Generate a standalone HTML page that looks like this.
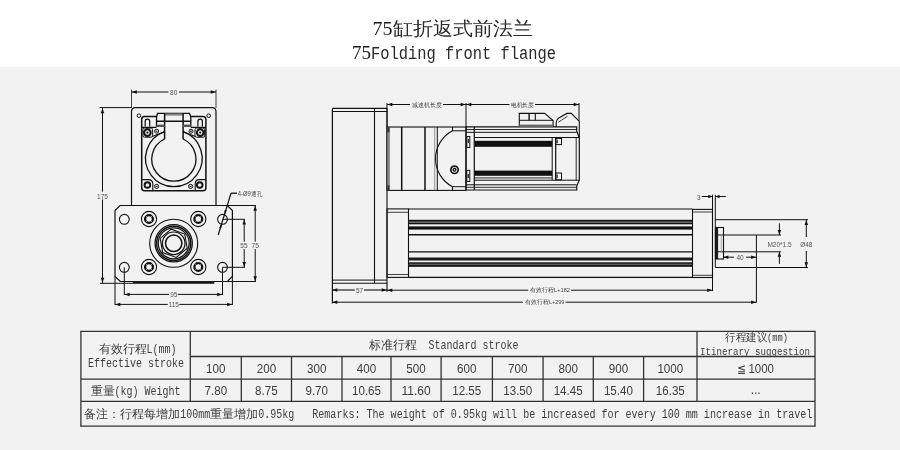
<!DOCTYPE html>
<html><head><meta charset="utf-8"><style>
*{margin:0;padding:0}
html,body{width:900px;height:450px;overflow:hidden;background:#f2f2f2}
svg{position:absolute;left:0;top:0;display:block;will-change:transform}
</style></head><body>
<svg width="900" height="450" viewBox="0 0 900 450">
<rect x="0" y="0" width="900" height="66.5" fill="#fff"/>
<text x="372.5" y="35.3" font-size="19.5" fill="#1a1a1a" text-anchor="start" font-family='"Liberation Serif", serif' textLength="20" lengthAdjust="spacingAndGlyphs" >75</text>
<text x="392.5" y="35.3" font-size="19" fill="#2b2b2b" text-anchor="start" font-family='"Liberation Serif", serif' textLength="140" lengthAdjust="spacingAndGlyphs" >缸折返式前法兰</text>
<text x="352" y="59" font-size="19" fill="#1a1a1a" text-anchor="start" font-family='"Liberation Serif", serif' textLength="19" lengthAdjust="spacingAndGlyphs" >75</text>
<text x="371" y="59" font-size="18.5" fill="#2a2a2a" text-anchor="start" font-family='"Liberation Mono", monospace' textLength="185" lengthAdjust="spacingAndGlyphs" >Folding front flange</text>
<path d="M131.5,205.5 V111.6 Q131.5,107.6 135.5,107.6 H212 Q216,107.6 216,111.6 V205.5" stroke="#111" stroke-width="1.2" fill="none"/>
<path d="M141.7,188 V119.3 Q141.7,116.5 144.5,116.5 H156.5 M190.8,116.5 H203 Q205.9,116.5 205.9,119.3 V188 Q205.9,190.7 203,190.7 H144.5 Q141.7,190.7 141.7,188" stroke="#111" stroke-width="1.5" fill="none"/>
<circle cx="138.9" cy="115.7" r="1.8" stroke="#111" stroke-width="1.0" fill="none"/>
<circle cx="208.7" cy="115.7" r="1.8" stroke="#111" stroke-width="1.0" fill="none"/>
<path d="M156.5,126.8 V117 L157.5,113.3 H189.5 L190.8,117 V126.8" stroke="#111" stroke-width="1.3" fill="none"/>
<rect x="164.6" y="113.5" width="18.5" height="2.2" fill="#8a8a8a"/>
<line x1="164.6" y1="113.3" x2="164.6" y2="139.2" stroke="#111" stroke-width="1.5"/>
<line x1="183.1" y1="113.3" x2="183.1" y2="139.2" stroke="#111" stroke-width="1.5"/>
<line x1="156.5" y1="121.2" x2="190.8" y2="121.2" stroke="#111" stroke-width="1.4"/>
<rect x="156.5" y="124.6" width="8.1" height="2.4" fill="#555"/>
<rect x="183.1" y="124.6" width="7.7" height="2.4" fill="#555"/>
<path d="M145.2,126.5 V121.4 A2.25,2.25 0 0 1 149.7,121.4 V126.5" stroke="#111" stroke-width="1.2" fill="none"/>
<path d="M197.9,126.5 V121.4 A2.25,2.25 0 0 1 202.4,121.4 V126.5" stroke="#111" stroke-width="1.2" fill="none"/>
<path d="M141.7,127.3 H156.5 M190.8,127.3 H205.9" stroke="#111" stroke-width="1.3" fill="none"/>
<path d="M143,129.5 Q143,128 144.5,128 H151 Q152.6,128 152.6,129.5 V135.7 Q152.6,137.2 151,137.2 H144.5 Q143,137.2 143,135.7 Z" stroke="#111" stroke-width="1.0" fill="none"/>
<path d="M204.6,129.5 Q204.6,128 203.1,128 H196.6 Q195,128 195,129.5 V135.7 Q195,137.2 196.6,137.2 H203.1 Q204.6,137.2 204.6,135.7 Z" stroke="#111" stroke-width="1.0" fill="none"/>
<path d="M152.2,136.4 L164.6,131.7 M195.4,136.4 L183.1,131.7" stroke="#111" stroke-width="1.1" fill="none"/>
<circle cx="147.4" cy="132.6" r="3.3" stroke="#111" stroke-width="2.0" fill="none"/>
<circle cx="147.4" cy="132.6" r="1.1" stroke="#111" stroke-width="0" fill="#111"/>
<circle cx="200.2" cy="132.6" r="3.3" stroke="#111" stroke-width="2.0" fill="none"/>
<circle cx="200.2" cy="132.6" r="1.1" stroke="#111" stroke-width="0" fill="#111"/>
<circle cx="156.6" cy="131.2" r="2.0" stroke="#111" stroke-width="1.0" fill="none"/>
<line x1="155.6" y1="131.2" x2="157.6" y2="131.2" stroke="#111" stroke-width="1.0"/>
<circle cx="191" cy="131.2" r="2.0" stroke="#111" stroke-width="1.0" fill="none"/>
<line x1="190" y1="131.2" x2="192" y2="131.2" stroke="#111" stroke-width="1.0"/>
<path d="M164.6,131.6 A28.3,28.3 0 1 0 183.1,131.6" stroke="#111" stroke-width="1.3" fill="none"/>
<path d="M164.6,139 A22.1,22.1 0 1 0 183.1,139" stroke="#111" stroke-width="1.3" fill="none"/>
<path d="M141.7,179.6 H148.5 Q152.8,179.6 152.8,184 V190.7" stroke="#111" stroke-width="1.1" fill="none"/>
<path d="M205.9,179.6 H199.5 Q195.2,179.6 195.2,184 V190.7" stroke="#111" stroke-width="1.1" fill="none"/>
<circle cx="147.4" cy="185" r="2.8" stroke="#111" stroke-width="1.9" fill="none"/>
<circle cx="199.7" cy="185" r="2.8" stroke="#111" stroke-width="1.9" fill="none"/>
<circle cx="156.6" cy="186.4" r="2.1" stroke="#111" stroke-width="1.0" fill="none"/>
<line x1="155.6" y1="186.4" x2="157.6" y2="186.4" stroke="#111" stroke-width="1.0"/>
<circle cx="190.6" cy="186.4" r="2.1" stroke="#111" stroke-width="1.0" fill="none"/>
<line x1="189.6" y1="186.4" x2="191.6" y2="186.4" stroke="#111" stroke-width="1.0"/>
<path d="M120,205.5 H227.4 L232.4,210.5 V276.5 L227.4,281.5 H120.3 L115,276.5 V210.6 Z" stroke="#111" stroke-width="1.2" fill="none"/>
<rect x="132.8" y="281" width="81.5" height="2.8" fill="#1a1a1a"/>
<circle cx="124.3" cy="219.3" r="4.9" stroke="#111" stroke-width="1.1" fill="none"/>
<circle cx="222.5" cy="219.3" r="4.9" stroke="#111" stroke-width="1.1" fill="none"/>
<circle cx="124.3" cy="267.3" r="4.9" stroke="#111" stroke-width="1.1" fill="none"/>
<circle cx="222.5" cy="267.3" r="4.9" stroke="#111" stroke-width="1.1" fill="none"/>
<circle cx="149" cy="219" r="7.6" stroke="#111" stroke-width="1.1" fill="none"/>
<circle cx="149" cy="219" r="3.9" stroke="#111" stroke-width="2.3" fill="none"/>
<line x1="145.32" y1="215.32" x2="147.02" y2="217.02" stroke="#f2f2f2" stroke-width="0.5"/>
<line x1="152.68" y1="222.68" x2="150.98" y2="220.98" stroke="#f2f2f2" stroke-width="0.5"/>
<line x1="152.68" y1="215.32" x2="150.98" y2="217.02" stroke="#f2f2f2" stroke-width="0.5"/>
<line x1="145.32" y1="222.68" x2="147.02" y2="220.98" stroke="#f2f2f2" stroke-width="0.5"/>
<circle cx="198.3" cy="219" r="7.6" stroke="#111" stroke-width="1.1" fill="none"/>
<circle cx="198.3" cy="219" r="3.9" stroke="#111" stroke-width="2.3" fill="none"/>
<line x1="194.62" y1="215.32" x2="196.32" y2="217.02" stroke="#f2f2f2" stroke-width="0.5"/>
<line x1="201.98" y1="222.68" x2="200.28" y2="220.98" stroke="#f2f2f2" stroke-width="0.5"/>
<line x1="201.98" y1="215.32" x2="200.28" y2="217.02" stroke="#f2f2f2" stroke-width="0.5"/>
<line x1="194.62" y1="222.68" x2="196.32" y2="220.98" stroke="#f2f2f2" stroke-width="0.5"/>
<circle cx="149" cy="267" r="7.6" stroke="#111" stroke-width="1.1" fill="none"/>
<circle cx="149" cy="267" r="3.9" stroke="#111" stroke-width="2.3" fill="none"/>
<line x1="145.32" y1="263.32" x2="147.02" y2="265.02" stroke="#f2f2f2" stroke-width="0.5"/>
<line x1="152.68" y1="270.68" x2="150.98" y2="268.98" stroke="#f2f2f2" stroke-width="0.5"/>
<line x1="152.68" y1="263.32" x2="150.98" y2="265.02" stroke="#f2f2f2" stroke-width="0.5"/>
<line x1="145.32" y1="270.68" x2="147.02" y2="268.98" stroke="#f2f2f2" stroke-width="0.5"/>
<circle cx="198.3" cy="267" r="7.6" stroke="#111" stroke-width="1.1" fill="none"/>
<circle cx="198.3" cy="267" r="3.9" stroke="#111" stroke-width="2.3" fill="none"/>
<line x1="194.62" y1="263.32" x2="196.32" y2="265.02" stroke="#f2f2f2" stroke-width="0.5"/>
<line x1="201.98" y1="270.68" x2="200.28" y2="268.98" stroke="#f2f2f2" stroke-width="0.5"/>
<line x1="201.98" y1="263.32" x2="200.28" y2="265.02" stroke="#f2f2f2" stroke-width="0.5"/>
<line x1="194.62" y1="270.68" x2="196.32" y2="268.98" stroke="#f2f2f2" stroke-width="0.5"/>
<circle cx="173.7" cy="243.3" r="24" stroke="#111" stroke-width="1.1" fill="none"/>
<circle cx="173.7" cy="243.3" r="18.6" stroke="#111" stroke-width="1.3" fill="none"/>
<circle cx="173.7" cy="243.3" r="17.1" stroke="#111" stroke-width="1.4" fill="none"/>
<circle cx="173.7" cy="243.3" r="15.5" stroke="#111" stroke-width="1.3" fill="none"/>
<polygon points="187.23,248.23 176.20,257.48 162.67,252.56 160.17,238.37 171.20,229.12 184.73,234.04" fill="none" stroke="#111" stroke-width="1.1"/>
<circle cx="173.7" cy="243.3" r="11.3" stroke="#111" stroke-width="1.2" fill="none"/>
<circle cx="173.7" cy="243.3" r="8.2" stroke="#111" stroke-width="1.5" fill="none"/>
<line x1="131.5" y1="89.5" x2="131.5" y2="108" stroke="#111" stroke-width="0.8"/>
<line x1="216" y1="89.5" x2="216" y2="108" stroke="#111" stroke-width="0.8"/>
<line x1="131.5" y1="92" x2="168.5" y2="92" stroke="#111" stroke-width="1.0"/>
<line x1="179" y1="92" x2="216" y2="92" stroke="#111" stroke-width="1.0"/>
<polygon points="131.80,92.00 136.80,90.25 136.80,93.75" fill="#111"/>
<polygon points="215.70,92.00 210.70,93.75 210.70,90.25" fill="#111"/>
<text x="173.7" y="95.2" font-size="6.5" fill="#555" text-anchor="middle" font-family='"Liberation Sans", sans-serif' >80</text>
<line x1="99.5" y1="107.6" x2="131.5" y2="107.6" stroke="#111" stroke-width="1.0"/>
<line x1="102.5" y1="108" x2="102.5" y2="191.7" stroke="#111" stroke-width="1.0"/>
<line x1="102.5" y1="199.5" x2="102.5" y2="283.3" stroke="#111" stroke-width="1.0"/>
<polygon points="102.50,108.30 104.25,113.30 100.75,113.30" fill="#111"/>
<polygon points="102.50,282.80 100.75,277.80 104.25,277.80" fill="#111"/>
<text x="102.5" y="199.2" font-size="6.5" fill="#555" text-anchor="middle" font-family='"Liberation Sans", sans-serif' >175</text>
<line x1="100" y1="283.3" x2="132.8" y2="283.3" stroke="#111" stroke-width="1.0"/>
<line x1="124.3" y1="267.3" x2="124.3" y2="295" stroke="#111" stroke-width="1.0"/>
<line x1="222.5" y1="267.3" x2="222.5" y2="295" stroke="#111" stroke-width="1.0"/>
<line x1="124.3" y1="294.4" x2="169" y2="294.4" stroke="#111" stroke-width="1.0"/>
<line x1="177.8" y1="294.4" x2="222.5" y2="294.4" stroke="#111" stroke-width="1.0"/>
<polygon points="124.60,294.40 129.60,292.65 129.60,296.15" fill="#111"/>
<polygon points="222.20,294.40 217.20,296.15 217.20,292.65" fill="#111"/>
<text x="173.8" y="297.0" font-size="6.5" fill="#555" text-anchor="middle" font-family='"Liberation Sans", sans-serif' >95</text>
<line x1="115" y1="276.5" x2="115" y2="305" stroke="#111" stroke-width="1.0"/>
<line x1="232.4" y1="276.5" x2="232.4" y2="305" stroke="#111" stroke-width="1.0"/>
<line x1="115" y1="304.4" x2="167.8" y2="304.4" stroke="#111" stroke-width="1.0"/>
<line x1="179.3" y1="304.4" x2="232.4" y2="304.4" stroke="#111" stroke-width="1.0"/>
<polygon points="115.30,304.50 120.30,302.75 120.30,306.25" fill="#111"/>
<polygon points="232.10,304.50 227.10,306.25 227.10,302.75" fill="#111"/>
<text x="173.8" y="306.8" font-size="6.5" fill="#555" text-anchor="middle" font-family='"Liberation Sans", sans-serif' >115</text>
<line x1="222.5" y1="219.3" x2="245" y2="219.3" stroke="#111" stroke-width="1.0"/>
<line x1="222.5" y1="267.3" x2="245" y2="267.3" stroke="#111" stroke-width="1.0"/>
<line x1="244.2" y1="219.3" x2="244.2" y2="241.7" stroke="#111" stroke-width="1.0"/>
<line x1="244.2" y1="249.1" x2="244.2" y2="267.3" stroke="#111" stroke-width="1.0"/>
<polygon points="244.20,219.60 245.95,224.60 242.45,224.60" fill="#111"/>
<polygon points="244.20,267.00 242.45,262.00 245.95,262.00" fill="#111"/>
<text x="244" y="248.0" font-size="6.6" fill="#555" text-anchor="middle" font-family='"Liberation Sans", sans-serif' >55</text>
<line x1="227.4" y1="205.5" x2="256" y2="205.5" stroke="#111" stroke-width="1.0"/>
<line x1="227.4" y1="281.5" x2="256" y2="281.5" stroke="#111" stroke-width="1.0"/>
<line x1="255.2" y1="205.5" x2="255.2" y2="241.7" stroke="#111" stroke-width="1.0"/>
<line x1="255.2" y1="249.1" x2="255.2" y2="281.5" stroke="#111" stroke-width="1.0"/>
<polygon points="255.20,205.80 256.95,210.80 253.45,210.80" fill="#111"/>
<polygon points="255.20,281.20 253.45,276.20 256.95,276.20" fill="#111"/>
<text x="255.2" y="248.0" font-size="6.6" fill="#555" text-anchor="middle" font-family='"Liberation Sans", sans-serif' >75</text>
<line x1="231" y1="193.2" x2="237" y2="193.2" stroke="#111" stroke-width="1.3"/>
<line x1="231" y1="193.2" x2="218.2" y2="235" stroke="#111" stroke-width="1.2"/>
<polygon points="224.00,216.00 224.71,209.94 226.81,210.59" fill="#111"/>
<polygon points="222.00,222.50 221.29,228.56 219.19,227.91" fill="#111"/>
<text x="237.8" y="195.6" font-size="6.3" fill="#444" text-anchor="start" font-family='"Liberation Sans", sans-serif' textLength="13" lengthAdjust="spacingAndGlyphs" >4-Ø9</text>
<text x="251" y="195.6" font-size="6.3" fill="#444" text-anchor="start" font-family='"Liberation Serif", serif' textLength="11" lengthAdjust="spacingAndGlyphs" >通孔</text>
<line x1="332.4" y1="108.4" x2="387" y2="108.4" stroke="#111" stroke-width="1.1"/>
<line x1="332.4" y1="111.5" x2="387" y2="111.5" stroke="#111" stroke-width="1.1"/>
<line x1="332.4" y1="108.4" x2="332.4" y2="303.5" stroke="#111" stroke-width="1.2"/>
<line x1="387" y1="108.5" x2="387" y2="292" stroke="#111" stroke-width="1.1"/>
<line x1="374.5" y1="108.5" x2="374.5" y2="283.3" stroke="#111" stroke-width="1.1"/>
<line x1="332" y1="280.1" x2="387" y2="280.1" stroke="#111" stroke-width="1"/>
<line x1="332" y1="283.3" x2="387" y2="283.3" stroke="#111" stroke-width="1.1"/>
<rect x="387" y="127" width="79" height="63.4" stroke="#111" stroke-width="1.1" fill="none"/>
<rect x="387.5" y="127.5" width="1.8" height="62.5" fill="#9a9a9a"/>
<rect x="387.3" y="127.3" width="2.2" height="5" fill="#333"/>
<rect x="387.3" y="185.4" width="2.2" height="5" fill="#333"/>
<line x1="389.3" y1="127" x2="389.3" y2="190.4" stroke="#555" stroke-width="0.7"/>
<line x1="401.7" y1="127" x2="401.7" y2="190.4" stroke="#111" stroke-width="1.5"/>
<line x1="425" y1="127" x2="425" y2="190.4" stroke="#111" stroke-width="1.5"/>
<line x1="434.7" y1="127" x2="434.7" y2="190.4" stroke="#777" stroke-width="0.8"/>
<line x1="437.3" y1="127" x2="437.3" y2="190.4" stroke="#111" stroke-width="1.0"/>
<path d="M452.5,127 V130.8 A31.5,31.5 0 0 0 452.5,186.7 V190.4" stroke="#111" stroke-width="1.1" fill="none"/>
<line x1="452.5" y1="130.8" x2="466" y2="130.8" stroke="#111" stroke-width="1.0"/>
<line x1="452.5" y1="186.7" x2="466" y2="186.7" stroke="#111" stroke-width="1.0"/>
<circle cx="454.5" cy="169.8" r="3.7" stroke="#111" stroke-width="1.7" fill="none"/>
<circle cx="454.5" cy="169.8" r="1.4" stroke="#111" stroke-width="1.3" fill="none"/>
<line x1="387" y1="103" x2="387" y2="127" stroke="#111" stroke-width="1.0"/>
<line x1="466" y1="103" x2="466" y2="127" stroke="#111" stroke-width="1.0"/>
<line x1="579" y1="103" x2="579" y2="121" stroke="#111" stroke-width="1.0"/>
<line x1="387" y1="104.5" x2="410" y2="104.5" stroke="#111" stroke-width="1.0"/>
<line x1="443" y1="104.5" x2="466" y2="104.5" stroke="#111" stroke-width="1.0"/>
<polygon points="387.30,104.50 392.30,102.75 392.30,106.25" fill="#111"/>
<polygon points="465.70,104.50 460.70,106.25 460.70,102.75" fill="#111"/>
<text x="411.5" y="106.8" font-size="6.2" fill="#444" text-anchor="start" font-family='"Liberation Serif", serif' textLength="30" lengthAdjust="spacingAndGlyphs" >减速机长度</text>
<line x1="466" y1="104.5" x2="509.5" y2="104.5" stroke="#111" stroke-width="1.0"/>
<line x1="535" y1="104.5" x2="579" y2="104.5" stroke="#111" stroke-width="1.0"/>
<polygon points="466.30,104.50 471.30,102.75 471.30,106.25" fill="#111"/>
<polygon points="578.70,104.50 573.70,106.25 573.70,102.75" fill="#111"/>
<text x="510.8" y="106.8" font-size="6.2" fill="#444" text-anchor="start" font-family='"Liberation Serif", serif' textLength="23" lengthAdjust="spacingAndGlyphs" >电机长度</text>
<path d="M466,126.8 H576.7 V131 L579.3,138 V180 L576.7,186.3 V190 H466 Z" stroke="#111" stroke-width="1.2" fill="none"/>
<line x1="474.3" y1="126.8" x2="474.3" y2="190" stroke="#111" stroke-width="1.2"/>
<line x1="466" y1="129.5" x2="576.7" y2="129.5" stroke="#111" stroke-width="0.9"/>
<line x1="466" y1="132.3" x2="576.7" y2="132.3" stroke="#111" stroke-width="1.0"/>
<line x1="474.3" y1="137.5" x2="579.3" y2="137.5" stroke="#111" stroke-width="1.0"/>
<line x1="474.3" y1="177.9" x2="552.2" y2="177.9" stroke="#111" stroke-width="0.9"/>
<line x1="474.3" y1="180.2" x2="579.3" y2="180.2" stroke="#111" stroke-width="1.0"/>
<line x1="466" y1="184.8" x2="576.7" y2="184.8" stroke="#111" stroke-width="1.0"/>
<line x1="466" y1="187.3" x2="576.7" y2="187.3" stroke="#111" stroke-width="0.9"/>
<rect x="466.8" y="136.5" width="3" height="11" stroke="#111" stroke-width="1.0" fill="none"/>
<rect x="466.8" y="170.3" width="3" height="11.2" stroke="#111" stroke-width="1.0" fill="none"/>
<rect x="467.6" y="139" width="1.4" height="4" fill="#333"/>
<rect x="467.6" y="174" width="1.4" height="4" fill="#333"/>
<rect x="474.3" y="140.8" width="77.9" height="6" fill="#111"/>
<rect x="474.3" y="170.6" width="77.9" height="5.2" fill="#111"/>
<line x1="552.2" y1="137.5" x2="552.2" y2="180.2" stroke="#111" stroke-width="1.0"/>
<line x1="555.7" y1="137.5" x2="555.7" y2="180.2" stroke="#111" stroke-width="1.2"/>
<line x1="576.2" y1="137.5" x2="576.2" y2="180.2" stroke="#111" stroke-width="0.9"/>
<rect x="555.7" y="138.4" width="5.8" height="6.2" stroke="#111" stroke-width="1.0" fill="none"/>
<rect x="555.7" y="173" width="5.8" height="6.8" stroke="#111" stroke-width="1.0" fill="none"/>
<rect x="556.4" y="139.6" width="1.4" height="3.6" fill="#333"/>
<rect x="556.4" y="174.4" width="1.4" height="3.8" fill="#333"/>
<path d="M519.3,127 V113.4 H544.7 L553.1,120.6 V127" stroke="#111" stroke-width="1.1" fill="none"/>
<line x1="529.1" y1="113.4" x2="529.1" y2="120.3" stroke="#111" stroke-width="1.4"/>
<line x1="535.3" y1="113.4" x2="535.3" y2="120.3" stroke="#111" stroke-width="1.1"/>
<line x1="519.3" y1="120.3" x2="553.1" y2="120.3" stroke="#111" stroke-width="1.0"/>
<rect x="519.3" y="124.6" width="33.8" height="2.4" fill="#666"/>
<path d="M556.2,127 V122.8 Q556.5,119.5 558.4,118.3 L566.9,113.4 H571.3 L579.3,121.4 V138" stroke="#111" stroke-width="1.1" fill="none"/>
<path d="M558.4,122.3 L567.5,116.2" stroke="#111" stroke-width="0.8" fill="none"/>
<rect x="387" y="208.9" width="21.5" height="68.5" stroke="#111" stroke-width="1.1" fill="none"/>
<line x1="387" y1="212.3" x2="408.5" y2="212.3" stroke="#111" stroke-width="0.8"/>
<line x1="387" y1="274.5" x2="408.5" y2="274.5" stroke="#111" stroke-width="0.8"/>
<line x1="408.5" y1="209" x2="692.5" y2="209" stroke="#111" stroke-width="1.1"/>
<line x1="408.5" y1="277.4" x2="692.5" y2="277.4" stroke="#111" stroke-width="1.1"/>
<rect x="408.5" y="219.8" width="284" height="2.0" fill="#111"/>
<rect x="408.5" y="221.8" width="284" height="0.9" fill="#666"/>
<rect x="408.5" y="222.7" width="284" height="1.6" fill="#111"/>
<rect x="408.5" y="226.4" width="284" height="3.2" fill="#111"/>
<line x1="408.5" y1="234.8" x2="692.5" y2="234.8" stroke="#111" stroke-width="1.4"/>
<line x1="408.5" y1="251.9" x2="692.5" y2="251.9" stroke="#111" stroke-width="1.2"/>
<rect x="408.5" y="257.5" width="284" height="3.0" fill="#1c1c1c"/>
<rect x="408.5" y="262.3" width="284" height="1.6" fill="#111"/>
<rect x="408.5" y="263.9" width="284" height="0.7" fill="#555"/>
<rect x="408.5" y="264.6" width="284" height="2.2" fill="#111"/>
<rect x="692.5" y="209.4" width="20" height="68.1" stroke="#111" stroke-width="1.1" fill="none"/>
<line x1="692.5" y1="212" x2="712.5" y2="212" stroke="#111" stroke-width="0.8"/>
<line x1="692.5" y1="275.3" x2="712.5" y2="275.3" stroke="#111" stroke-width="0.8"/>
<line x1="712.5" y1="194.7" x2="712.5" y2="291.1" stroke="#111" stroke-width="1"/>
<line x1="715.3" y1="194.7" x2="715.3" y2="267.5" stroke="#111" stroke-width="1"/>
<line x1="715.3" y1="219.7" x2="808" y2="219.7" stroke="#111" stroke-width="1.0"/>
<line x1="715.3" y1="267.5" x2="808" y2="267.5" stroke="#111" stroke-width="1.0"/>
<rect x="715.5" y="227.5" width="2.6" height="31.5" fill="#1e1e1e"/>
<rect x="715.5" y="227.5" width="8" height="31.5" stroke="#111" stroke-width="1.1" fill="none"/>
<line x1="718" y1="235" x2="723.5" y2="235" stroke="#111" stroke-width="1"/>
<line x1="718" y1="251.8" x2="723.5" y2="251.8" stroke="#111" stroke-width="1"/>
<line x1="721.3" y1="235" x2="721.3" y2="251.8" stroke="#888" stroke-width="0.7"/>
<line x1="723.5" y1="235" x2="756.4" y2="235" stroke="#111" stroke-width="1"/>
<line x1="723.5" y1="251.8" x2="756.4" y2="251.8" stroke="#111" stroke-width="1"/>
<line x1="756.4" y1="235" x2="756.4" y2="302.5" stroke="#111" stroke-width="1"/>
<line x1="756.4" y1="235" x2="781" y2="235" stroke="#111" stroke-width="1.0"/>
<line x1="756.4" y1="251.8" x2="781" y2="251.8" stroke="#111" stroke-width="1.0"/>
<line x1="779.4" y1="223.4" x2="779.4" y2="235" stroke="#111" stroke-width="1.0"/>
<line x1="779.4" y1="251.8" x2="779.4" y2="263.8" stroke="#111" stroke-width="1.0"/>
<polygon points="779.40,235.00 777.65,230.00 781.15,230.00" fill="#111"/>
<polygon points="779.40,251.80 781.15,256.80 777.65,256.80" fill="#111"/>
<text x="779.5" y="247.4" font-size="6.5" fill="#555" text-anchor="middle" font-family='"Liberation Sans", sans-serif' >M20*1.5</text>
<line x1="806.3" y1="219.7" x2="806.3" y2="237" stroke="#111" stroke-width="1.0"/>
<line x1="806.3" y1="251" x2="806.3" y2="267.5" stroke="#111" stroke-width="1.0"/>
<polygon points="806.30,220.00 808.05,225.00 804.55,225.00" fill="#111"/>
<polygon points="806.30,267.20 804.55,262.20 808.05,262.20" fill="#111"/>
<text x="806.3" y="247.4" font-size="6.5" fill="#555" text-anchor="middle" font-family='"Liberation Sans", sans-serif' >Ø48</text>
<line x1="723" y1="257.2" x2="734" y2="257.2" stroke="#111" stroke-width="1.0"/>
<line x1="746" y1="257.2" x2="756.4" y2="257.2" stroke="#111" stroke-width="1.0"/>
<polygon points="723.30,257.20 728.30,255.45 728.30,258.95" fill="#111"/>
<polygon points="756.10,257.20 751.10,258.95 751.10,255.45" fill="#111"/>
<text x="740" y="260.4" font-size="6.5" fill="#555" text-anchor="middle" font-family='"Liberation Sans", sans-serif' >40</text>
<line x1="701.7" y1="196.5" x2="712.5" y2="196.5" stroke="#111" stroke-width="1.0"/>
<line x1="715.3" y1="196.5" x2="725.8" y2="196.5" stroke="#111" stroke-width="1.0"/>
<polygon points="712.30,196.50 708.30,198.25 708.30,194.75" fill="#111"/>
<polygon points="715.50,196.50 719.50,194.75 719.50,198.25" fill="#111"/>
<text x="698.9" y="199.7" font-size="6.5" fill="#555" text-anchor="middle" font-family='"Liberation Sans", sans-serif' >3</text>
<line x1="332" y1="290" x2="354.8" y2="290" stroke="#111" stroke-width="1.1"/>
<line x1="364" y1="290" x2="387" y2="290" stroke="#111" stroke-width="1.1"/>
<polygon points="332.30,290.00 337.30,288.25 337.30,291.75" fill="#111"/>
<polygon points="386.70,290.00 381.70,291.75 381.70,288.25" fill="#111"/>
<text x="359.6" y="293.2" font-size="6.5" fill="#555" text-anchor="middle" font-family='"Liberation Sans", sans-serif' >57</text>
<line x1="387" y1="290.2" x2="528.3" y2="290.2" stroke="#111" stroke-width="1.0"/>
<line x1="571.1" y1="290.2" x2="712.5" y2="290.2" stroke="#111" stroke-width="1.0"/>
<polygon points="387.30,290.20 392.30,288.45 392.30,291.95" fill="#111"/>
<polygon points="712.20,290.20 707.20,291.95 707.20,288.45" fill="#111"/>
<text x="530" y="292.4" font-size="6" fill="#444" text-anchor="start" font-family='"Liberation Serif", serif' textLength="24" lengthAdjust="spacingAndGlyphs" >有效行程</text>
<text x="554" y="292.4" font-size="6" fill="#444" text-anchor="start" font-family='"Liberation Sans", sans-serif' textLength="16" lengthAdjust="spacingAndGlyphs" >L+182</text>
<line x1="332" y1="302.2" x2="522.8" y2="302.2" stroke="#111" stroke-width="1.0"/>
<line x1="565.6" y1="302.2" x2="756.4" y2="302.2" stroke="#111" stroke-width="1.0"/>
<polygon points="332.30,302.20 337.30,300.45 337.30,303.95" fill="#111"/>
<polygon points="756.10,302.20 751.10,303.95 751.10,300.45" fill="#111"/>
<text x="525" y="304.4" font-size="6" fill="#444" text-anchor="start" font-family='"Liberation Serif", serif' textLength="24" lengthAdjust="spacingAndGlyphs" >有效行程</text>
<text x="549" y="304.4" font-size="6" fill="#444" text-anchor="start" font-family='"Liberation Sans", sans-serif' textLength="15.4" lengthAdjust="spacingAndGlyphs" >L+299</text>
<line x1="80.30000000000001" y1="331.3" x2="815.6" y2="331.3" stroke="#333" stroke-width="1.3"/>
<line x1="80.30000000000001" y1="426.2" x2="815.6" y2="426.2" stroke="#333" stroke-width="1.3"/>
<line x1="80.9" y1="331.3" x2="80.9" y2="426.2" stroke="#333" stroke-width="1.3"/>
<line x1="815" y1="331.3" x2="815" y2="426.2" stroke="#333" stroke-width="1.3"/>
<line x1="80.9" y1="379.2" x2="815" y2="379.2" stroke="#333" stroke-width="1.3"/>
<line x1="80.9" y1="401.3" x2="815" y2="401.3" stroke="#333" stroke-width="1.3"/>
<line x1="190.3" y1="356.5" x2="815" y2="356.5" stroke="#333" stroke-width="1.3"/>
<line x1="190.3" y1="331.3" x2="190.3" y2="401.3" stroke="#333" stroke-width="1.3"/>
<line x1="697" y1="331.3" x2="697" y2="401.3" stroke="#333" stroke-width="1.3"/>
<line x1="241.3" y1="356.5" x2="241.3" y2="401.3" stroke="#333" stroke-width="1.3"/>
<line x1="291.5" y1="356.5" x2="291.5" y2="401.3" stroke="#333" stroke-width="1.3"/>
<line x1="342" y1="356.5" x2="342" y2="401.3" stroke="#333" stroke-width="1.3"/>
<line x1="391" y1="356.5" x2="391" y2="401.3" stroke="#333" stroke-width="1.3"/>
<line x1="441.1" y1="356.5" x2="441.1" y2="401.3" stroke="#333" stroke-width="1.3"/>
<line x1="492.4" y1="356.5" x2="492.4" y2="401.3" stroke="#333" stroke-width="1.3"/>
<line x1="543.1" y1="356.5" x2="543.1" y2="401.3" stroke="#333" stroke-width="1.3"/>
<line x1="593.3" y1="356.5" x2="593.3" y2="401.3" stroke="#333" stroke-width="1.3"/>
<line x1="643.6" y1="356.5" x2="643.6" y2="401.3" stroke="#333" stroke-width="1.3"/>
<text x="98.5" y="352.5" font-size="12" fill="#3d3d3d" text-anchor="start" font-family='"Liberation Serif", serif' textLength="48" lengthAdjust="spacingAndGlyphs" >有效行程</text>
<text x="146.5" y="352.5" font-size="12" fill="#3d3d3d" text-anchor="start" font-family='"Liberation Mono", monospace' textLength="30" lengthAdjust="spacingAndGlyphs" >L(mm)</text>
<text x="88" y="367.3" font-size="12" fill="#3d3d3d" text-anchor="start" font-family='"Liberation Mono", monospace' textLength="96" lengthAdjust="spacingAndGlyphs" >Effective stroke</text>
<text x="368.5" y="348.6" font-size="12" fill="#3d3d3d" text-anchor="start" font-family='"Liberation Serif", serif' textLength="48" lengthAdjust="spacingAndGlyphs" >标准行程</text>
<text x="428.5" y="348.6" font-size="12" fill="#3d3d3d" text-anchor="start" font-family='"Liberation Mono", monospace' textLength="90" lengthAdjust="spacingAndGlyphs" >Standard stroke</text>
<text x="725" y="341" font-size="10.5" fill="#3d3d3d" text-anchor="start" font-family='"Liberation Serif", serif' textLength="42" lengthAdjust="spacingAndGlyphs" >行程建议</text>
<text x="767" y="341" font-size="10.5" fill="#3d3d3d" text-anchor="start" font-family='"Liberation Mono", monospace' textLength="21" lengthAdjust="spacingAndGlyphs" >(mm)</text>
<text x="700" y="355.3" font-size="11" fill="#3d3d3d" text-anchor="start" font-family='"Liberation Mono", monospace' textLength="110" lengthAdjust="spacingAndGlyphs" >Itinerary suggestion</text>
<text x="215.8" y="373" font-size="12.5" fill="#3d3d3d" text-anchor="middle" font-family='"Liberation Sans", sans-serif' textLength="19.39" lengthAdjust="spacingAndGlyphs" >100</text>
<text x="215.8" y="395" font-size="12.5" fill="#3d3d3d" text-anchor="middle" font-family='"Liberation Sans", sans-serif' textLength="22.62" lengthAdjust="spacingAndGlyphs" >7.80</text>
<text x="266.4" y="373" font-size="12.5" fill="#3d3d3d" text-anchor="middle" font-family='"Liberation Sans", sans-serif' textLength="19.39" lengthAdjust="spacingAndGlyphs" >200</text>
<text x="266.4" y="395" font-size="12.5" fill="#3d3d3d" text-anchor="middle" font-family='"Liberation Sans", sans-serif' textLength="22.62" lengthAdjust="spacingAndGlyphs" >8.75</text>
<text x="316.75" y="373" font-size="12.5" fill="#3d3d3d" text-anchor="middle" font-family='"Liberation Sans", sans-serif' textLength="19.39" lengthAdjust="spacingAndGlyphs" >300</text>
<text x="316.75" y="395" font-size="12.5" fill="#3d3d3d" text-anchor="middle" font-family='"Liberation Sans", sans-serif' textLength="22.62" lengthAdjust="spacingAndGlyphs" >9.70</text>
<text x="366.5" y="373" font-size="12.5" fill="#3d3d3d" text-anchor="middle" font-family='"Liberation Sans", sans-serif' textLength="19.39" lengthAdjust="spacingAndGlyphs" >400</text>
<text x="366.5" y="395" font-size="12.5" fill="#3d3d3d" text-anchor="middle" font-family='"Liberation Sans", sans-serif' textLength="29.09" lengthAdjust="spacingAndGlyphs" >10.65</text>
<text x="416.05" y="373" font-size="12.5" fill="#3d3d3d" text-anchor="middle" font-family='"Liberation Sans", sans-serif' textLength="19.39" lengthAdjust="spacingAndGlyphs" >500</text>
<text x="416.05" y="395" font-size="12.5" fill="#3d3d3d" text-anchor="middle" font-family='"Liberation Sans", sans-serif' textLength="29.09" lengthAdjust="spacingAndGlyphs" >11.60</text>
<text x="466.75" y="373" font-size="12.5" fill="#3d3d3d" text-anchor="middle" font-family='"Liberation Sans", sans-serif' textLength="19.39" lengthAdjust="spacingAndGlyphs" >600</text>
<text x="466.75" y="395" font-size="12.5" fill="#3d3d3d" text-anchor="middle" font-family='"Liberation Sans", sans-serif' textLength="29.09" lengthAdjust="spacingAndGlyphs" >12.55</text>
<text x="517.75" y="373" font-size="12.5" fill="#3d3d3d" text-anchor="middle" font-family='"Liberation Sans", sans-serif' textLength="19.39" lengthAdjust="spacingAndGlyphs" >700</text>
<text x="517.75" y="395" font-size="12.5" fill="#3d3d3d" text-anchor="middle" font-family='"Liberation Sans", sans-serif' textLength="29.09" lengthAdjust="spacingAndGlyphs" >13.50</text>
<text x="568.2" y="373" font-size="12.5" fill="#3d3d3d" text-anchor="middle" font-family='"Liberation Sans", sans-serif' textLength="19.39" lengthAdjust="spacingAndGlyphs" >800</text>
<text x="568.2" y="395" font-size="12.5" fill="#3d3d3d" text-anchor="middle" font-family='"Liberation Sans", sans-serif' textLength="29.09" lengthAdjust="spacingAndGlyphs" >14.45</text>
<text x="618.45" y="373" font-size="12.5" fill="#3d3d3d" text-anchor="middle" font-family='"Liberation Sans", sans-serif' textLength="19.39" lengthAdjust="spacingAndGlyphs" >900</text>
<text x="618.45" y="395" font-size="12.5" fill="#3d3d3d" text-anchor="middle" font-family='"Liberation Sans", sans-serif' textLength="29.09" lengthAdjust="spacingAndGlyphs" >15.40</text>
<text x="670.3" y="373" font-size="12.5" fill="#3d3d3d" text-anchor="middle" font-family='"Liberation Sans", sans-serif' textLength="25.85" lengthAdjust="spacingAndGlyphs" >1000</text>
<text x="670.3" y="395" font-size="12.5" fill="#3d3d3d" text-anchor="middle" font-family='"Liberation Sans", sans-serif' textLength="29.09" lengthAdjust="spacingAndGlyphs" >16.35</text>
<text x="737" y="373" font-size="12" fill="#3d3d3d" text-anchor="start" font-family='"Liberation Serif", serif' textLength="9" lengthAdjust="spacingAndGlyphs" >≦</text>
<text x="748.5" y="373" font-size="12.5" fill="#3d3d3d" text-anchor="start" font-family='"Liberation Sans", sans-serif' textLength="25.5" lengthAdjust="spacingAndGlyphs" >1000</text>
<text x="755.7" y="394" font-size="12" fill="#3d3d3d" text-anchor="middle" font-family='"Liberation Sans", sans-serif' >...</text>
<text x="90.5" y="394.5" font-size="12" fill="#3d3d3d" text-anchor="start" font-family='"Liberation Serif", serif' textLength="24" lengthAdjust="spacingAndGlyphs" >重量</text>
<text x="114.5" y="394.5" font-size="12" fill="#3d3d3d" text-anchor="start" font-family='"Liberation Mono", monospace' textLength="66" lengthAdjust="spacingAndGlyphs" >(kg) Weight</text>
<text x="84.2" y="418.3" font-size="12" fill="#3d3d3d" text-anchor="start" font-family='"Liberation Serif", serif' textLength="96" lengthAdjust="spacingAndGlyphs" >备注：行程每增加</text>
<text x="180.3" y="418.3" font-size="12" fill="#3d3d3d" text-anchor="start" font-family='"Liberation Mono", monospace' textLength="30" lengthAdjust="spacingAndGlyphs" >100mm</text>
<text x="210.3" y="418.3" font-size="12" fill="#3d3d3d" text-anchor="start" font-family='"Liberation Serif", serif' textLength="48" lengthAdjust="spacingAndGlyphs" >重量增加</text>
<text x="258.3" y="418.3" font-size="12" fill="#3d3d3d" text-anchor="start" font-family='"Liberation Mono", monospace' textLength="36" lengthAdjust="spacingAndGlyphs" >0.95kg</text>
<text x="312.3" y="418.3" font-size="12" fill="#3d3d3d" text-anchor="start" font-family='"Liberation Mono", monospace' textLength="500" lengthAdjust="spacingAndGlyphs" >Remarks: The weight of 0.95kg will be increased for every 100 mm increase in travel</text>
</svg>
</body></html>
